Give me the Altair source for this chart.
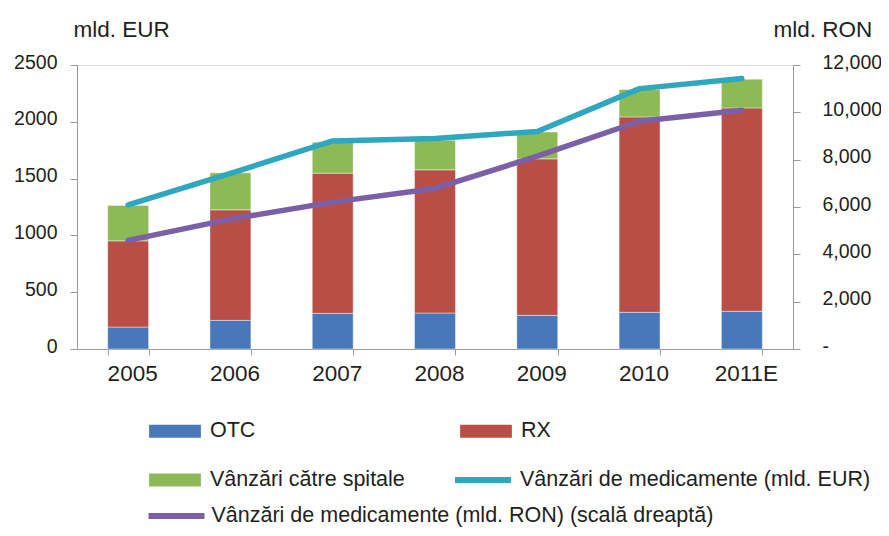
import altair as alt
import pandas as pd

years = ["2005", "2006", "2007", "2008", "2009", "2010", "2011E"]
otc = [193, 252, 314, 317, 296, 323, 332]
rx = [759, 973, 1234, 1260, 1378, 1720, 1790]
spitale = [312, 326, 273, 261, 237, 241, 253]
vanzari_eur = [1269, 1545, 1832, 1853, 1915, 2292, 2381]
vanzari_ron = [4588, 5488, 6205, 6783, 8147, 9624, 10089]

bar_series = ["OTC", "RX", "Vânzări către spitale"]
bar_colors = ["#4878BA", "#B94E47", "#8EBA56"]
eur_name = "Vânzări de medicamente (mld. EUR)"
ron_name = "Vânzări de medicamente (mld. RON) (scală dreaptă)"

FONT = "Liberation Sans, Arial, Helvetica, sans-serif"
TXT = "#231f20"
AX = "#9a9a9a"

rows = []
for i, y in enumerate(years):
    for k, (name, vals) in enumerate(zip(bar_series, [otc, rx, spitale])):
        rows.append({"year": y, "series": name, "value": vals[i], "ord": k})
bars_df = pd.DataFrame(rows)
eur_df = pd.DataFrame({"year": years, "value": vanzari_eur, "series": eur_name})
ron_df = pd.DataFrame({"year": years, "value": vanzari_ron, "series": ron_name})

xenc = alt.X(
    "year:N",
    sort=years,
    title=None,
    scale=alt.Scale(paddingInner=0.6, paddingOuter=0.3),
    axis=alt.Axis(
        tickBand="extent", tickSize=6, labelPadding=7, labelOffset=4,
        labelFontSize=22.5, labelAngle=0, domainColor=AX, tickColor=AX,
        labelColor=TXT, labelFont=FONT,
    ),
)

bars = alt.Chart(bars_df).mark_bar(stroke="white", strokeWidth=0.6, strokeOpacity=0.7).encode(
    x=xenc,
    y=alt.Y(
        "value:Q", stack="zero",
        scale=alt.Scale(domain=[0, 2500], nice=False),
        axis=alt.Axis(
            values=[0, 500, 1000, 1500, 2000, 2500], format="d", orient="left",
            title="mld. EUR", titleAngle=0, titleAlign="left", titleBaseline="alphabetic",
            titleX=-4, titleY=-29, titleFont=FONT, titleFontSize=22.5, titleFontWeight="normal",
            titleColor=TXT, tickSize=7, labelPadding=13, labelOffset=-3, labelFontSize=19.5,
            labelFont=FONT, labelColor=TXT, domainColor=AX, tickColor=AX, grid=False,
        ),
    ),
    color=alt.Color(
        "series:N",
        scale=alt.Scale(domain=bar_series, range=bar_colors),
        legend=alt.Legend(
            title=None, orient="none", legendX=85, legendY=353, columns=2,
            direction="horizontal",
            symbolType="M-2,-0.5H2V0.5H-2Z", symbolSize=670, symbolStrokeWidth=0,
            labelOffset=22, rowPadding=25, columnPadding=55, padding=0,
            labelFont=FONT, labelFontSize=21.5, labelColor=TXT, labelLimit=0,
        ),
    ),
    order=alt.Order("ord:Q"),
)

eur_line = alt.Chart(eur_df).mark_line(strokeWidth=5.5, strokeCap="round", strokeJoin="round").encode(
    x=xenc,
    y=alt.Y("value:Q", scale=alt.Scale(domain=[0, 2500], nice=False), axis=None),
    color=alt.Color(
        "series:N",
        scale=alt.Scale(domain=[eur_name], range=["#2EA7BF"]),
        legend=alt.Legend(
            title=None, orient="none", legendX=375, legendY=384,
            symbolType="stroke", symbolSize=3136, symbolStrokeWidth=6,
            labelOffset=6, padding=0, labelFont=FONT, labelFontSize=21.5,
            labelColor=TXT, labelLimit=0,
        ),
    ),
)

ron_line = alt.Chart(ron_df).mark_line(strokeWidth=5.5, strokeCap="round", strokeJoin="round").encode(
    x=xenc,
    y=alt.Y(
        "value:Q",
        scale=alt.Scale(domain=[0, 12000], nice=False),
        axis=alt.Axis(
            values=[0, 2000, 4000, 6000, 8000, 10000, 12000], orient="right",
            labelExpr="datum.value == 0 ? '-' : format(datum.value, ',')",
            title="mld. RON", titleAngle=0, titleAlign="left", titleBaseline="alphabetic",
            titleX=-20, titleY=-29, titleFont=FONT, titleFontSize=22.5, titleFontWeight="normal",
            titleColor=TXT, tickSize=7, labelPadding=22, labelOffset=-3, labelFontSize=19.5,
            labelFont=FONT, labelColor=TXT, domainColor=AX, tickColor=AX, grid=False,
        ),
    ),
    color=alt.Color(
        "series:N",
        scale=alt.Scale(domain=[ron_name], range=["#7B60A8"]),
        legend=alt.Legend(
            title=None, orient="none", legendX=68.5, legendY=420,
            symbolType="stroke", symbolSize=3136, symbolStrokeWidth=6,
            labelOffset=4, padding=0, labelFont=FONT, labelFontSize=21.5,
            labelColor=TXT, labelLimit=0,
        ),
    ),
)

chart = alt.layer(bars, eur_line, ron_line).resolve_scale(
    y="independent", color="independent"
).properties(
    width=716, height=284,
    autosize=alt.AutoSizeParams(type="none"),
    padding={"left": 69, "top": 57, "right": 88, "bottom": 179},
).configure_view(stroke=None).configure(background="white")

chart.save("out.html", embed_options={"renderer": "svg", "actions": False})
